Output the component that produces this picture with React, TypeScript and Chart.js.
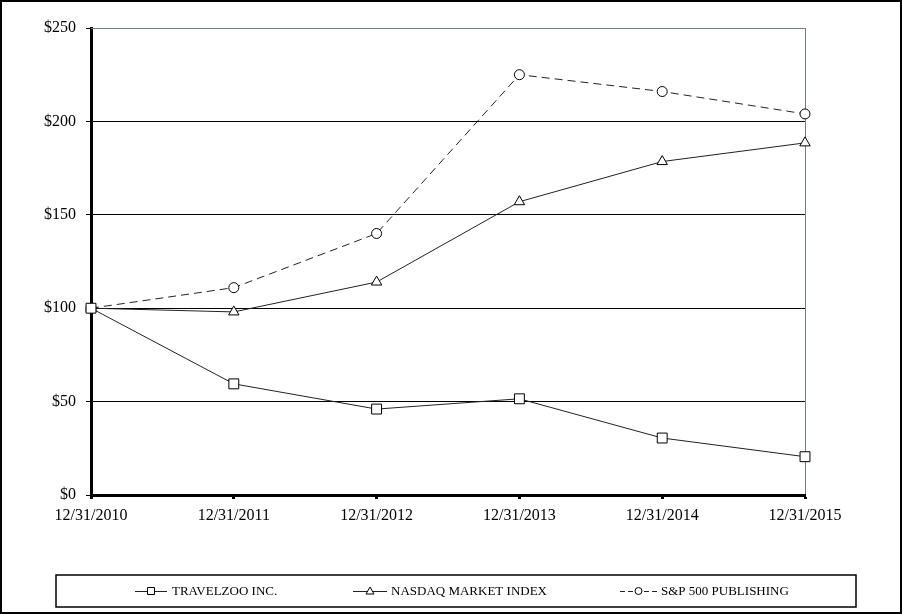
import React, { useEffect, useRef } from 'react';
import { Chart, registerables } from 'chart.js';

Chart.register(...registerables);

const categories = ['12/31/2010', '12/31/2011', '12/31/2012', '12/31/2013', '12/31/2014', '12/31/2015'];
const travelzoo = [100, 59.5, 46, 51.5, 30.5, 20.5];
const nasdaq = [100, 98, 114, 157, 178.5, 188.5];
const spPublishing = [100, 111, 140, 225, 216, 204];
const seriesLabels = ['TRAVELZOO INC.', 'NASDAQ MARKET INDEX', 'S&P 500 PUBLISHING'];
const yMin = 0;
const yMax = 250;
const yStep = 50;

const FONT = '"Liberation Serif", "Times New Roman", serif';
const LINE = '#222';
const FRAME = '#6f7f8f';

const framePlugin = {
  id: 'frameAndLegend',
  afterDraw(chart: any) {
    const ctx = chart.ctx;
    const { left, right, top } = chart.chartArea;
    ctx.save();
    ctx.strokeStyle = FRAME;
    ctx.lineWidth = 1;
    ctx.beginPath();
    ctx.moveTo(left, Math.round(top) + 0.5);
    ctx.lineTo(right, Math.round(top) + 0.5);
    ctx.stroke();
    ctx.strokeStyle = '#000';
    ctx.lineWidth = 2;
    ctx.strokeRect(1, 1, chart.width - 2, chart.height - 2);
    ctx.lineWidth = 1.5;
    ctx.strokeRect(56, 575, 800, 32);
    const cy = 591;
    const items = [
      { x0: 135, x1: 167, tx: 172, style: 'rect', dash: [] as number[] },
      { x0: 353, x1: 387, tx: 391, style: 'triangle', dash: [] as number[] },
      { x0: 620, x1: 657, tx: 661, style: 'circle', dash: [5, 3] },
    ];
    ctx.font = '13px ' + FONT;
    ctx.textBaseline = 'middle';
    items.forEach((it, i) => {
      ctx.strokeStyle = LINE;
      ctx.lineWidth = 1;
      ctx.setLineDash(it.dash);
      ctx.beginPath();
      ctx.moveTo(it.x0, cy + 0.5);
      ctx.lineTo(it.x1, cy + 0.5);
      ctx.stroke();
      ctx.setLineDash([]);
      const mx = (it.x0 + it.x1) / 2;
      ctx.fillStyle = '#fff';
      ctx.strokeStyle = '#000';
      ctx.beginPath();
      if (it.style === 'rect') {
        ctx.rect(mx - 3.5, cy - 3.5, 7, 7);
      } else if (it.style === 'triangle') {
        ctx.moveTo(mx, cy - 4);
        ctx.lineTo(mx + 4, cy + 3);
        ctx.lineTo(mx - 4, cy + 3);
        ctx.closePath();
      } else {
        ctx.arc(mx, cy, 3.5, 0, Math.PI * 2);
      }
      ctx.fill();
      ctx.stroke();
      ctx.fillStyle = '#000';
      ctx.fillText(seriesLabels[i], it.tx, cy + 1);
    });
    ctx.restore();
  },
};

export default function App() {
  const ref = useRef<HTMLCanvasElement>(null);
  useEffect(() => {
    if (!ref.current) return;
    const mk = (label: string, data: number[], style: string, radius: number, dash: number[]) => ({
      label,
      data,
      borderColor: LINE,
      borderWidth: 1,
      borderDash: dash,
      pointStyle: style,
      pointRadius: radius,
      pointBackgroundColor: '#fff',
      pointBorderColor: '#000',
      pointBorderWidth: 1,
      tension: 0,
      fill: false,
    });
    const chart = new Chart(ref.current, {
      type: 'line',
      data: {
        labels: categories,
        datasets: [
          mk(seriesLabels[0], travelzoo, 'rect', 7, []),
          mk(seriesLabels[1], nasdaq, 'triangle', 6, []),
          mk(seriesLabels[2], spPublishing, 'circle', 5, [8, 5]),
        ],
      },
      options: {
        responsive: false,
        animation: false,
        layout: { padding: { left: 8, right: 97, top: 28, bottom: 89 } },
        plugins: { legend: { display: false }, tooltip: { enabled: false } },
        scales: {
          x: {
            type: 'category',
            offset: false,
            afterFit: (s: any) => { s.height = 30; },
            border: { color: '#000', width: 3 },
            grid: {
              drawOnChartArea: true,
              color: (c: any) => (c.index === categories.length - 1 ? FRAME : 'rgba(0,0,0,0)'),
              lineWidth: 1,
              tickColor: '#000',
              tickWidth: 3,
              tickLength: 4,
            },
            ticks: {
              color: '#000',
              font: { family: FONT, size: 16 },
              padding: 7,
              maxRotation: 0,
              autoSkip: false,
            },
          },
          y: {
            min: yMin,
            max: yMax,
            afterFit: (s: any) => { s.width = 83; },
            border: { color: '#000', width: 3 },
            grid: {
              color: (c: any) => (c.tick && c.tick.value === yMax ? 'rgba(0,0,0,0)' : '#000'),
              lineWidth: 1,
              tickColor: '#000',
              tickLength: 5,
            },
            ticks: {
              stepSize: yStep,
              color: '#000',
              font: { family: FONT, size: 16 },
              padding: 10,
              callback: (v: any) => '$' + v,
            },
          },
        },
      },
      plugins: [framePlugin],
    });
    return () => chart.destroy();
  }, []);
  return (
    <div style={{ position: 'fixed', left: 0, top: 0, width: 902, height: 614, background: '#fff' }}>
      <canvas ref={ref} width={902} height={614} style={{ display: 'block' }} />
    </div>
  );
}
